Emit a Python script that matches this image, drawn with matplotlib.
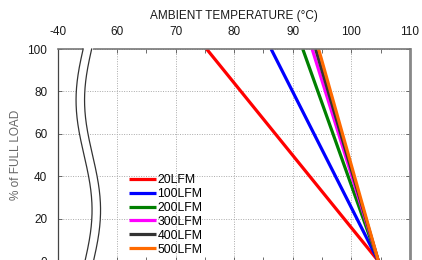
"""
Derating curve: % of full load vs ambient temperature, per airflow (LFM).
Broken x axis: left edge stands for -40 C, then jumps to 60 C.
"""
import numpy as np
import matplotlib
matplotlib.use("Agg")
import matplotlib.pyplot as plt

plt.rcParams["font.family"] = ["Liberation Sans", "DejaVu Sans"]

# ── data ───────────────────────────────────────────────────────────────────────
airflow   = ["20LFM", "100LFM", "200LFM", "300LFM", "400LFM", "500LFM"]
colors    = ["#ff0000", "#0000ff", "#008000", "#ff00ff", "#333333", "#ff6a00"]
t_full    = [75.3, 86.3, 91.7, 93.3, 93.9, 94.4]   # temp where load = 100 %
t_zero    = [104.6, 104.6, 104.6, 104.6, 104.6, 104.6]  # temp where load = 0 %
load_pts  = [100, 0]

x_ticks   = [50, 60, 70, 80, 90, 100, 110]          # 50 is the stand-in for -40
x_labels  = ["-40", "60", "70", "80", "90", "100", "110"]
x_minor   = [65, 75, 85, 95, 105]
y_ticks   = [0, 20, 40, 60, 80, 100]

# ── figure ─────────────────────────────────────────────────────────────────────
fig = plt.figure(figsize=(4.22, 2.60), dpi=100)
ax = fig.add_axes([0.1382, -0.004, 0.8334, 0.8155])

for name, c, t1, t0 in zip(airflow, colors, t_full, t_zero):
    ax.plot([t1, t0], load_pts, color=c, lw=2.3, label=name, solid_capstyle="butt")

ax.set_xlim(50, 110)
ax.set_ylim(0, 100)
ax.set_xticks(x_ticks)
ax.set_xticklabels(x_labels)
ax.set_xticks(x_minor, minor=True)
ax.set_yticks(y_ticks)

ax.tick_params(axis="both", which="both", direction="in", top=True, right=True,
               labeltop=True, labelbottom=False, labelsize=8.5,
               labelcolor="#1a1a1a", pad=8, color="#555555")
ax.tick_params(which="major", length=3, width=0.6)
ax.tick_params(which="minor", length=3, width=0.6)

ax.grid(True, which="major", ls=(0, (1, 1.5)), lw=0.7, color="#aaaaaa")
ax.set_axisbelow(True)

ax.xaxis.set_label_position("top")
ax.set_xlabel("AMBIENT TEMPERATURE (°C)", fontsize=8.5, color="#1a1a1a", labelpad=5)
ax.set_ylabel("% of FULL LOAD", fontsize=8.5, color="#666666", labelpad=4)

ax.spines["left"].set_color("#444444")
ax.spines["left"].set_linewidth(0.9)
ax.spines["top"].set_color("#777777")
ax.spines["top"].set_linewidth(1.2)
ax.spines["right"].set_color("#888888")
ax.spines["right"].set_linewidth(2.0)

# ── axis break squiggle ────────────────────────────────────────────────────────
yy = np.linspace(-1, 100, 200)
x_left = 54.39 - 1.365 * np.cos(2 * np.pi * (yy - 75.9) / 103.8)
x_right = x_left + 1.45
yy_f = np.linspace(-1, 100.8, 200)
xl_f = 54.39 - 1.365 * np.cos(2 * np.pi * (yy_f - 75.9) / 103.8)
ax.fill_betweenx(yy_f, xl_f, xl_f + 1.45, color="white", zorder=5, clip_on=False)
ax.plot(x_left, yy, color="#333333", lw=0.9, zorder=6, clip_on=False)
ax.plot(x_right, yy, color="#333333", lw=0.9, zorder=6, clip_on=False)

leg = ax.legend(loc="upper left", bbox_to_anchor=(0.200, 0.411), frameon=False,
                fontsize=8.8, handlelength=2.2, handletextpad=0.15,
                labelspacing=0.16, borderpad=0, borderaxespad=0)
for h in leg.get_lines():
    h.set_linewidth(2.3)

fig.savefig("out.png", dpi=100)
